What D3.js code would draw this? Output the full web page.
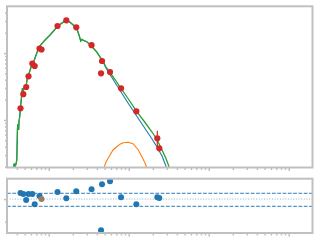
<!DOCTYPE html>
<html>
<head>
<meta charset="utf-8">
<script src="https://cdn.jsdelivr.net/npm/d3@7"></script>
<style>
body { margin: 0; background: #fff; }
svg { display: block; }
</style>
</head>
<body>
<script>
// observed points (x, flux) and the one visible error bar
var obsX = [4.44, 4.81, 5.23, 5.59, 6.24, 6.68, 7.67, 8.13, 12.88, 16.6, 22.1, 34.3, 46.4, 45.1, 58.4, 80.2, 124.5, 227.8, 241.3];
var obsY = [1.495, 2.43, 3.11, 4.49, 6.97, 6.40, 11.67, 11.28, 25.3, 30.8, 24.2, 13.1, 7.60, 4.98, 5.20, 2.97, 1.349, 0.533, 0.378];
var obsLo = [null, null, null, null, null, null, null, null, null, null, null, null, null, null, null, null, null, 0.409, null];
var obsHi = [null, null, null, null, null, null, null, null, null, null, null, null, null, null, null, null, null, 0.692, null];

// residuals, same x as obsX
var resid = [0.268, 0.224, -0.042, 0.224, 0.224, -0.232, 0.135, 0.003, 0.312, 0.034, 0.343, 0.431, 0.652, -1.381, 0.785, 0.078, -0.232, 0.078, 0.047];
var residLevels = [0.255, -0.32];

// total model (green)
var totX = [3.64, 3.70, 3.79, 3.90, 3.99, 4.04, 4.07, 4.13, 4.21, 4.25, 4.32, 4.38, 4.47, 4.57, 4.64, 4.70, 4.77, 4.84, 4.95, 5.20,
  5.40, 5.67, 5.96, 6.18, 6.61, 7.08, 7.41, 7.94, 8.99, 10.38, 11.99, 12.81, 13.57, 14.54, 16.60, 18.46, 20.71, 22.78, 24.13, 25.12,
  26.08, 27.07, 29.85, 34.48, 39.81, 43.78, 47.32, 52.03, 58.39, 67.43, 80.12, 98.0, 124.5, 159.9, 195.6, 225.8, 260.8, 292.6, 323.6];
var totY = [0.195, 0.224, 0.202, 0.220, 0.253, 0.503, 0.760, 0.872, 0.709, 0.966, 1.071, 1.272, 1.675, 2.204, 2.618, 3.004, 2.529, 2.804, 3.004, 3.162,
  4.164, 4.943, 5.910, 6.972, 7.863, 9.90, 11.67, 13.16, 15.63, 18.56, 22.58, 24.43, 26.18, 27.76, 31.09, 28.72, 25.56, 22.04, 17.94, 15.11,
  16.02, 15.47, 14.75, 12.59, 10.35, 8.716, 7.727, 6.18, 5.117, 4.022, 2.972, 2.094, 1.372, 0.918, 0.662, 0.512, 0.357, 0.266, 0.192];

// first component (blue) follows the total up to x ~ 44, then:
var compSplit = 46;
var compTailX = [47.32, 52.03, 58.39, 67.43, 80.12, 98.0, 124.5, 159.9, 195.6, 225.8, 260.8, 298.5];
var compTailY = [7.60, 5.97, 4.78, 3.63, 2.618, 1.794, 1.167, 0.747, 0.521, 0.395, 0.290, 0.192];

// second component (orange)
var bumpX = [48.4, 52.0, 58.4, 63.7, 70.8, 77.8, 85.6, 98.9, 114.2, 131.8, 149.6, 159.9, 170.3];
var bumpY = [0.186, 0.236, 0.300, 0.357, 0.399, 0.434, 0.458, 0.465, 0.438, 0.357, 0.268, 0.228, 0.186];

var xMajor = [10, 100, 1000, 10000];
var yMajor = [1, 10];
var rMajor = [0];
var rMinor = [-1];

var W = 320, H = 240;
var L = 7, R = 312.5, T1 = 6.3, B1 = 167.5, T2 = 178.7, B2 = 233;
var grey = "#c0c0c0";

var svg = d3.select("body").append("svg").attr("width", W).attr("height", H);

var x = d3.scaleLog().domain([3.01, 19840]).range([L, R]);
var y = d3.scaleLog().domain([0.1954, 49.8]).range([B1, T1]);
var yr = d3.scaleLinear().domain([-1.5, 0.9]).range([B2, T2]);

function minorLog(lo, hi) {
	var out = [];
	for (var e = lo; e < hi; e++) {
		for (var k = 2; k < 10; k++) out.push(k * Math.pow(10, e));
	}
	return out;
}
var xMinor = minorLog(0, 4).filter(function(v) { return v > 3.01 && v < 19840; });
var yMinor = minorLog(-1, 2).filter(function(v) { return v > 0.1954 && v < 49.8; });

svg.append("clipPath").attr("id", "c1").append("rect")
	.attr("x", L).attr("y", T1).attr("width", R - L).attr("height", B1 - T1);
svg.append("clipPath").attr("id", "c2").append("rect")
	.attr("x", L).attr("y", T2).attr("width", R - L).attr("height", B2 - T2);

function pairs(xs, ys) { return xs.map(function(v, i) { return [v, ys[i]]; }); }

var line = d3.line().x(function(d) { return x(d[0]); }).y(function(d) { return y(d[1]); });

var main = svg.append("g").attr("clip-path", "url(#c1)");

var comp = pairs(totX.slice(0, compSplit), totY.slice(0, compSplit)).concat(pairs(compTailX, compTailY));
main.append("path").datum(comp).attr("d", line)
	.attr("fill", "none").attr("stroke", "#1f77b4").attr("stroke-width", 1.1);
main.append("path").datum(pairs(bumpX, bumpY)).attr("d", line)
	.attr("fill", "none").attr("stroke", "#ff7f0e").attr("stroke-width", 1.1);
main.append("path").datum(pairs(totX, totY)).attr("d", line)
	.attr("fill", "none").attr("stroke", "#2ca02c").attr("stroke-width", 1.3);

var obs = obsX.map(function(v, i) { return { x: v, y: obsY[i], lo: obsLo[i], hi: obsHi[i], r: resid[i], i: i }; });

main.selectAll("line.err").data(obs.filter(function(d) { return d.lo != null; }))
	.enter().append("line")
	.attr("x1", function(d) { return x(d.x); }).attr("x2", function(d) { return x(d.x); })
	.attr("y1", function(d) { return y(d.lo); }).attr("y2", function(d) { return y(d.hi); })
	.attr("stroke", "#d62728").attr("stroke-width", 1.2);

main.selectAll("circle").data(obs).enter().append("circle")
	.attr("cx", function(d) { return x(d.x); })
	.attr("cy", function(d) { return y(d.y); })
	.attr("r", 3.1)
	.attr("fill", "#d62728");

// residual panel
var low = svg.append("g").attr("clip-path", "url(#c2)");
low.selectAll("line.lvl").data(residLevels).enter().append("line")
	.attr("x1", L).attr("x2", R)
	.attr("y1", function(d) { return yr(d); }).attr("y2", function(d) { return yr(d); })
	.attr("stroke", "#2b7bba").attr("stroke-width", 1).attr("stroke-dasharray", "3.7,1.6");
low.append("line")
	.attr("x1", L).attr("x2", R).attr("y1", yr(0)).attr("y2", yr(0))
	.attr("stroke", "#7fb3dc").attr("stroke-width", 1).attr("stroke-dasharray", "1,1.65");

low.selectAll("circle").data(obs).enter().append("circle")
	.attr("cx", function(d) { return x(d.x); })
	.attr("cy", function(d) { return yr(d.r); })
	.attr("r", 3)
	.attr("fill", function(d) { return d.i === 7 ? "#9a7b5c" : "#1f77b4"; });

// ticks
function ticks(axis, g, size) {
	g.call(axis.tickSize(size).tickFormat(""));
	g.select(".domain").remove();
	g.selectAll(".tick line").attr("stroke", grey).attr("stroke-width", 1.5);
}
ticks(d3.axisBottom(x).tickValues(xMinor), svg.append("g").attr("transform", "translate(0," + B1 + ")"), 2.5);
ticks(d3.axisBottom(x).tickValues(xMajor), svg.append("g").attr("transform", "translate(0," + B1 + ")"), 3.5);
ticks(d3.axisBottom(x).tickValues(xMinor), svg.append("g").attr("transform", "translate(0," + B2 + ")"), 2.5);
ticks(d3.axisBottom(x).tickValues(xMajor), svg.append("g").attr("transform", "translate(0," + B2 + ")"), 3.5);
ticks(d3.axisLeft(y).tickValues(yMinor), svg.append("g").attr("transform", "translate(" + L + ",0)"), 2);
ticks(d3.axisLeft(y).tickValues(yMajor), svg.append("g").attr("transform", "translate(" + L + ",0)"), 3);
ticks(d3.axisLeft(yr).tickValues(rMinor), svg.append("g").attr("transform", "translate(" + L + ",0)"), 2);
ticks(d3.axisLeft(yr).tickValues(rMajor), svg.append("g").attr("transform", "translate(" + L + ",0)"), 3);

// spines
[[T1, B1], [T2, B2]].forEach(function(p) {
	svg.append("rect").attr("x", L).attr("y", p[0]).attr("width", R - L).attr("height", p[1] - p[0])
		.attr("fill", "none").attr("stroke", grey).attr("stroke-width", 2);
});
</script>
</body>
</html>
